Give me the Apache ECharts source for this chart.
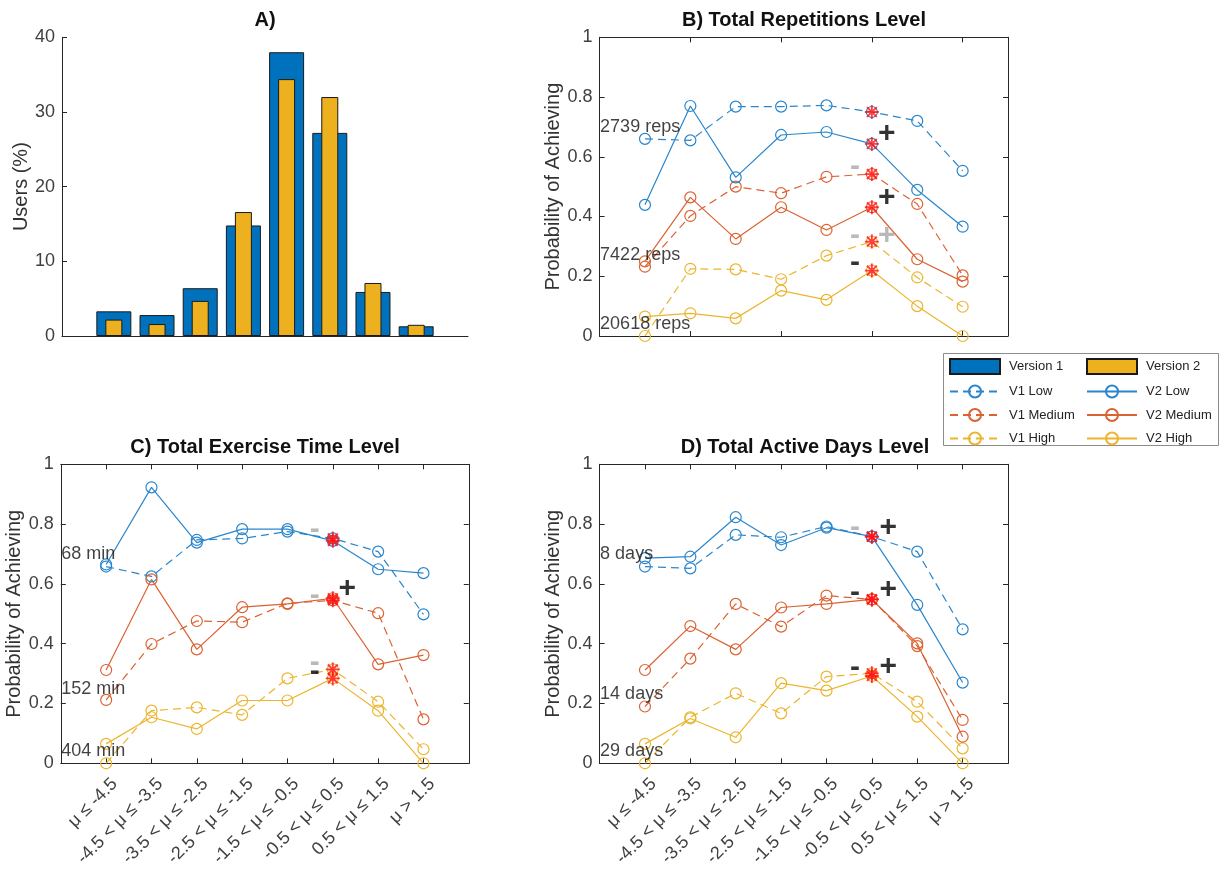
<!DOCTYPE html>
<html><head><meta charset="utf-8">
<script src="https://cdn.jsdelivr.net/npm/echarts@6/dist/echarts.min.js"></script>
<style>html,body{margin:0;padding:0;background:#fff}#chart{width:1220px;height:869px}</style>
</head><body><div id="chart"></div>
<script>
// ---------- data ----------
const barPositions = [1, 2, 3, 4, 5, 6, 7, 8];
const usersVersion1 = [3.3, 2.8, 6.4, 14.8, 38.0, 27.2, 5.9, 1.3];
const usersVersion2 = [2.2, 1.6, 4.7, 16.6, 34.4, 32.0, 7.1, 1.5];

const muLabels = ['μ ≤ -4.5', '-4.5 < μ ≤ -3.5', '-3.5 < μ ≤ -2.5', '-2.5 < μ ≤ -1.5',
  '-1.5 < μ ≤ -0.5', '-0.5 < μ ≤ 0.5', '0.5 < μ ≤ 1.5', 'μ > 1.5'];

// B) Total Repetitions Level
const repsV1Low    = [0.660, 0.655, 0.768, 0.768, 0.772, 0.750, 0.720, 0.553];
const repsV1Medium = [0.232, 0.402, 0.500, 0.478, 0.533, 0.542, 0.442, 0.203];
const repsV1High   = [0.000, 0.225, 0.223, 0.190, 0.269, 0.316, 0.196, 0.098];
const repsV2Low    = [0.439, 0.770, 0.531, 0.673, 0.683, 0.643, 0.489, 0.366];
const repsV2Medium = [0.250, 0.464, 0.325, 0.431, 0.355, 0.431, 0.257, 0.182];
const repsV2High   = [0.065, 0.076, 0.059, 0.152, 0.121, 0.219, 0.100, 0.000];

// C) Total Exercise Time Level
const timeV1Low    = [0.658, 0.625, 0.747, 0.752, 0.775, 0.752, 0.708, 0.498];
const timeV1Medium = [0.212, 0.399, 0.476, 0.472, 0.535, 0.545, 0.502, 0.147];
const timeV1High   = [0.000, 0.176, 0.187, 0.162, 0.284, 0.314, 0.206, 0.047];
const timeV2Low    = [0.665, 0.923, 0.738, 0.783, 0.783, 0.744, 0.649, 0.636];
const timeV2Medium = [0.312, 0.615, 0.381, 0.522, 0.533, 0.552, 0.331, 0.362];
const timeV2High   = [0.065, 0.154, 0.115, 0.210, 0.210, 0.284, 0.176, 0.000];

// D) Total Active Days Level
const daysV1Low    = [0.658, 0.652, 0.764, 0.756, 0.792, 0.758, 0.708, 0.448];
const daysV1Medium = [0.190, 0.350, 0.533, 0.457, 0.561, 0.548, 0.392, 0.145];
const daysV1High   = [0.000, 0.154, 0.234, 0.167, 0.290, 0.301, 0.206, 0.050];
const daysV2Low    = [0.686, 0.691, 0.823, 0.730, 0.788, 0.758, 0.530, 0.270];
const daysV2Medium = [0.312, 0.459, 0.381, 0.521, 0.533, 0.548, 0.401, 0.089];
const daysV2High   = [0.065, 0.150, 0.087, 0.268, 0.243, 0.292, 0.156, 0.000];

const sigIndex = 5; // highlighted (red asterisk) category

// level annotations: [y, text]
const repsLevels = [[0.70, '2739 reps'], [0.27, '7422 reps'], [0.04, '20618 reps']];
const timeLevels = [[0.70, '68 min'], [0.25, '152 min'], [0.04, '404 min']];
const daysLevels = [[0.70, '8 days'], [0.23, '14 days'], [0.04, '29 days']];

// sign annotations: [x, y, sign, significant(1)/not(0)]
const repsSigns = [[6.33, 0.676, '+', 1], [5.63, 0.567, '-', 0], [6.33, 0.462, '+', 1],
  [5.63, 0.336, '-', 0], [6.33, 0.336, '+', 0], [5.63, 0.245, '-', 1]];
const timeSigns = [[5.60, 0.780, '-', 0], [6.32, 0.585, '+', 1], [5.60, 0.560, '-', 0],
  [5.60, 0.338, '-', 0], [5.60, 0.306, '-', 1]];
const daysSigns = [[5.63, 0.788, '-', 0], [6.36, 0.788, '+', 1], [5.63, 0.572, '-', 1],
  [6.36, 0.580, '+', 1], [5.63, 0.321, '-', 1], [6.36, 0.323, '+', 1]];

// ---------- styles ----------
const FONT = 'Liberation Sans, Arial, Helvetica, sans-serif';
const AXIS_COLOR = '#262626';
const LABEL_COLOR = '#404040';
const BLUE = '#2a86cc', ORANGE = '#dc6232', YELLOW = '#ecb52e';
const BAR_BLUE = '#0072BD', BAR_YELLOW = '#EDB120';
const STAR_PATH = 'path://M-1.3,-10L1.3,-10L1.3,10L-1.3,10Z M-10,-1.3L10,-1.3L10,1.3L-10,1.3Z M8.0,6.1L6.1,8.0L-8.0,-6.1L-6.1,-8.0Z M6.1,-8.0L8.0,-6.1L-6.1,8.0L-8.0,6.1Z';

const grids = [
  { left: 62, top: 37.3, width: 406, height: 298.7 },
  { left: 599.6, top: 37.3, width: 408.4, height: 298.7 },
  { left: 60.8, top: 464.3, width: 408, height: 299 },
  { left: 599.6, top: 464.3, width: 408.4, height: 299 }
].map(g => Object.assign({ outerBoundsMode: 'none', containLabel: false }, g));

const tickStyle = { show: true, inside: true, length: 5, lineStyle: { color: AXIS_COLOR, width: 1 } };
const lineAxis = { show: true, onZero: false, lineStyle: { color: AXIS_COLOR, width: 1 } };

function xAx(gridIndex, opts) {
  return Object.assign({
    type: 'value', gridIndex, min: 0, max: 9, interval: 1,
    axisLine: lineAxis, axisTick: tickStyle, splitLine: { show: false },
    axisLabel: { show: false }
  }, opts);
}
function yAx(gridIndex, opts) {
  return Object.assign({
    type: 'value', gridIndex, min: 0, max: 1, interval: 0.2,
    axisLine: lineAxis, axisTick: tickStyle, splitLine: { show: false },
    axisLabel: { show: false }
  }, opts);
}
const yMainLabel = { show: true, fontSize: 18, color: LABEL_COLOR, fontFamily: FONT, margin: 7 };
const xMuLabel = {
  show: true, fontSize: 18, color: LABEL_COLOR, fontFamily: FONT, rotate: 45, margin: 1,
  verticalAlign: 'top', padding: [9, 6, 0, 0],
  formatter: v => muLabels[v - 1] || ''
};
const yName = (name, gap) => ({
  name, nameLocation: 'middle', nameGap: gap, nameRotate: 90,
  nameTextStyle: { fontSize: 20, color: '#333', fontFamily: FONT }
});

const xAxis = [
  // A (Version 1 bars)
  { type: 'value', gridIndex: 0, min: -0.2, max: 9.2, axisLine: lineAxis, axisTick: { show: false },
    axisLabel: { show: false }, splitLine: { show: false } },
  // B
  xAx(1, { interval: 2, position: 'bottom' }), xAx(1, { interval: 2, position: 'top' }),
  // C
  xAx(2, { position: 'bottom', axisLabel: xMuLabel }), xAx(2, { position: 'top' }),
  // D
  xAx(3, { position: 'bottom', axisLabel: xMuLabel }), xAx(3, { position: 'top' }),
  // A (Version 2 bars, overlaid, hidden)
  { type: 'value', gridIndex: 0, min: -0.2, max: 9.2, show: false, splitLine: { show: false } }
];
const yAxis = [
  Object.assign({ type: 'value', gridIndex: 0, min: 0, max: 40, interval: 10,
    axisLine: lineAxis, axisTick: tickStyle, splitLine: { show: false },
    axisLabel: yMainLabel }, yName('Users (%)', 27)),
  yAx(1, Object.assign({ position: 'left', axisLabel: yMainLabel }, yName('Probability of Achieving', 35))),
  yAx(1, { position: 'right' }),
  yAx(2, Object.assign({ position: 'left', axisLabel: yMainLabel }, yName('Probability of Achieving', 35))),
  yAx(2, { position: 'right' }),
  yAx(3, Object.assign({ position: 'left', axisLabel: yMainLabel }, yName('Probability of Achieving', 35))),
  yAx(3, { position: 'right' })
];

const series = [];
// Panel A bars
series.push({
  type: 'bar', name: 'Version 1', xAxisIndex: 0, yAxisIndex: 0, barWidth: 35,
  data: barPositions.map((p, i) => [p, usersVersion1[i]]),
  itemStyle: { color: BAR_BLUE, borderColor: '#1a1a1a', borderWidth: 1 }, z: 2
});
series.push({
  type: 'bar', name: 'Version 2', xAxisIndex: 7, yAxisIndex: 0, barWidth: 17,
  data: barPositions.map((p, i) => [p, usersVersion2[i]]),
  itemStyle: { color: BAR_YELLOW, borderColor: '#1a1a1a', borderWidth: 1 }, z: 3
});

function addPanel(axisIdx, sets, levels, signs) {
  sets.forEach(([name, values, color, dashed]) => {
    series.push({
      type: 'line', name, xAxisIndex: axisIdx, yAxisIndex: axisIdx,
      data: values.map((v, i) => [i + 1, v]),
      symbol: 'circle', symbolSize: 11,
      lineStyle: { color, width: 1.2, type: dashed ? [8, 5] : 'solid' },
      itemStyle: { color: 'rgba(255,255,255,0)', borderColor: color, borderWidth: 1.2 },
      emphasis: { disabled: true }, z: 3
    });
  });
  // red asterisks at the highlighted category
  series.push({
    type: 'scatter', name: 'sig', xAxisIndex: axisIdx, yAxisIndex: axisIdx,
    data: sets.map(s => [sigIndex + 1, s[1][sigIndex]]),
    symbol: STAR_PATH, symbolSize: 14, itemStyle: { color: '#ff1010' }, z: 5,
    emphasis: { disabled: true }
  });
  // level text
  series.push({
    type: 'scatter', name: 'levels', xAxisIndex: axisIdx, yAxisIndex: axisIdx,
    data: levels.map(([y, t]) => ({ value: [0, y], name: t })),
    symbolSize: 1, itemStyle: { color: 'rgba(0,0,0,0)' }, z: 6,
    label: { show: true, position: 'right', distance: 0, formatter: p => p.name,
      fontSize: 18, color: '#111', fontFamily: FONT },
    emphasis: { disabled: true }
  });
  // +/- signs
  series.push({
    type: 'scatter', name: 'signs', xAxisIndex: axisIdx, yAxisIndex: axisIdx,
    data: signs.map(([x, y, s, sig]) => ({
      value: [x, y], name: s,
      label: { color: sig ? '#000' : '#a8a8a8' }
    })),
    symbolSize: 1, itemStyle: { color: 'rgba(0,0,0,0)' }, z: 6,
    label: { show: true, position: 'inside', formatter: p => p.name,
      fontSize: 30, fontWeight: 'bold', fontFamily: FONT },
    emphasis: { disabled: true }
  });
}

addPanel(1, [
  ['V1 Low', repsV1Low, BLUE, true], ['V1 Medium', repsV1Medium, ORANGE, true], ['V1 High', repsV1High, YELLOW, true],
  ['V2 Low', repsV2Low, BLUE, false], ['V2 Medium', repsV2Medium, ORANGE, false], ['V2 High', repsV2High, YELLOW, false]
], repsLevels, repsSigns);
addPanel(3, [
  ['V1 Low', timeV1Low, BLUE, true], ['V1 Medium', timeV1Medium, ORANGE, true], ['V1 High', timeV1High, YELLOW, true],
  ['V2 Low', timeV2Low, BLUE, false], ['V2 Medium', timeV2Medium, ORANGE, false], ['V2 High', timeV2High, YELLOW, false]
], timeLevels, timeSigns);
addPanel(5, [
  ['V1 Low', daysV1Low, BLUE, true], ['V1 Medium', daysV1Medium, ORANGE, true], ['V1 High', daysV1High, YELLOW, true],
  ['V2 Low', daysV2Low, BLUE, false], ['V2 Medium', daysV2Medium, ORANGE, false], ['V2 High', daysV2High, YELLOW, false]
], daysLevels, daysSigns);

const titleStyle = { fontSize: 20, fontWeight: 'bold', color: '#111', fontFamily: FONT };
const legendCommon = {
  orient: 'vertical', top: 358, itemWidth: 50, itemHeight: 15, itemGap: 9.5,
  selectedMode: false, padding: 0,
  textStyle: { fontSize: 13, color: '#222', fontFamily: FONT, padding: [0, 0, 0, 4] }
};

const option = {
  animation: false,
  backgroundColor: '#fff',
  title: [
    { text: 'A)', left: 265, top: 10, textAlign: 'center', padding: 0, textStyle: titleStyle },
    { text: 'B) Total Repetitions Level', left: 804, top: 10, textAlign: 'center', padding: 0, textStyle: titleStyle },
    { text: 'C) Total Exercise Time Level', left: 265, top: 437, textAlign: 'center', padding: 0, textStyle: titleStyle },
    { text: 'D) Total Active Days Level', left: 805, top: 437, textAlign: 'center', padding: 0, textStyle: titleStyle }
  ],
  legend: [
    Object.assign({ left: 949, data: [{ name: 'Version 1', icon: 'rect' }, 'V1 Low', 'V1 Medium', 'V1 High'] }, legendCommon),
    Object.assign({ left: 1086, data: [{ name: 'Version 2', icon: 'rect' }, 'V2 Low', 'V2 Medium', 'V2 High'] }, legendCommon)
  ],
  graphic: [{
    type: 'rect', left: 943, top: 353, z: -1,
    shape: { width: 275, height: 92 },
    style: { fill: '#fff', stroke: '#8c8c8c', lineWidth: 1 }
  }],
  grid: grids,
  xAxis, yAxis, series
};

const chart = echarts.init(document.getElementById('chart'), null, { renderer: 'canvas' });
chart.setOption(option);
</script>
</body></html>
